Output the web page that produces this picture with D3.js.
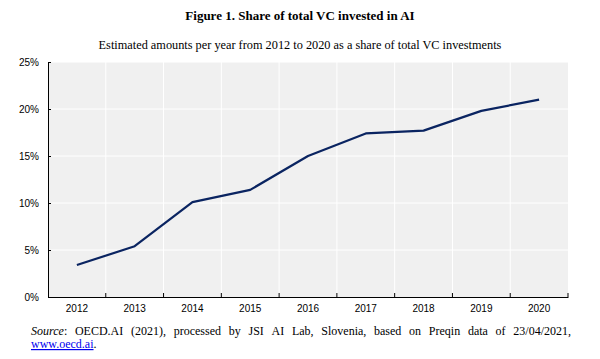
<!DOCTYPE html>
<html><head><meta charset="utf-8">
<script src="https://cdn.jsdelivr.net/npm/d3@7"></script>
<style>body{margin:0;background:#fff}</style>
</head><body>
<svg id="c" width="600" height="359"></svg>
<script>
const years = ["2012","2013","2014","2015","2016","2017","2018","2019","2020"];
const shares = [3.4, 5.4, 10.1, 11.4, 15.0, 17.4, 17.7, 19.8, 21.0];
const yTicks = [0, 5, 10, 15, 20, 25];
const titleText = "Figure 1. Share of total VC invested in AI";
const subtitleText = "Estimated amounts per year from 2012 to 2020 as a share of total VC investments";
const sourceWords = ["OECD.AI","(2021),","processed","by","JSI","AI","Lab,","Slovenia,","based","on","Preqin","data","of","23/04/2021,"];

const svg = d3.select("#c");
const m = {l:48, r:32, t:62, b:62};
const W = 600, H = 359;
const x = d3.scaleBand().domain(years).range([m.l, W - m.r]).padding(0);
const y = d3.scaleLinear().domain([0, 25]).range([H - m.b, m.t]);
const axisFont = "'Liberation Sans Narrow','Arial Narrow','Liberation Sans',Arial,sans-serif";
const serif = "'Liberation Serif','Times New Roman',serif";

svg.append("text").attr("x", 300).attr("y", 20).attr("text-anchor","middle")
  .attr("font-family", serif).attr("font-weight","bold").attr("font-size", 13).text(titleText);
svg.append("text").attr("x", 300).attr("y", 49).attr("text-anchor","middle")
  .attr("font-family", serif).attr("font-size", 12.3).text(subtitleText);

svg.append("rect").attr("x", m.l).attr("y", m.t).attr("width", W - m.r - m.l).attr("height", H - m.b - m.t).attr("fill","#f0f0f0");

// grid
svg.append("g").selectAll("line").data(yTicks.slice(1)).join("line")
  .attr("x1", m.l).attr("x2", W - m.r).attr("y1", d => y(d)).attr("y2", d => y(d))
  .attr("stroke","#fff").attr("stroke-width",1);
svg.append("g").selectAll("line").data(years.slice(1)).join("line")
  .attr("x1", d => x(d)).attr("x2", d => x(d)).attr("y1", m.t).attr("y2", H - m.b)
  .attr("stroke","#fff").attr("stroke-width",1);

// axes
const yAxis = svg.append("g").attr("transform", `translate(${m.l},0)`)
  .call(d3.axisLeft(y).tickValues(yTicks).tickFormat(d => d + "%").tickSize(-3).tickPadding(9));
yAxis.select(".domain").attr("stroke","#000");
yAxis.selectAll("text").attr("font-family", axisFont).attr("font-size", 10).attr("fill","#000");
yAxis.selectAll(".tick line").attr("stroke","#000");

const xAxis = svg.append("g").attr("transform", `translate(0,${H - m.b})`)
  .call(d3.axisBottom(x).tickSize(0).tickPadding(8));
xAxis.select(".domain").attr("stroke","#000");
xAxis.selectAll("text").attr("font-family", axisFont).attr("font-size", 10).attr("fill","#000");
const bounds = years.map(d => x(d)).concat([x(years[years.length-1]) + x.bandwidth()]);
xAxis.append("g").selectAll("line").data(bounds.slice(1)).join("line")
  .attr("x1", d => d).attr("x2", d => d).attr("y1", 0).attr("y2", -4).attr("stroke","#000");

// line
const line = d3.line().x((d,i) => x(years[i]) + x.bandwidth()/2).y(d => y(d));
svg.append("path").datum(shares).attr("d", line).attr("fill","none")
  .attr("stroke","#0a2461").attr("stroke-width",2.2).attr("stroke-linejoin","round");

// source, justified
const sy = 335, sx0 = 31, sx1 = 571;
const measure = svg.append("text").attr("font-family", serif).attr("font-size", 12).attr("visibility","hidden");
const words = [{t:"Source", it:true, suf:":"}].concat(sourceWords.map(w => ({t:w})));
const widths = words.map(w => {
  measure.selectAll("*").remove(); measure.text(null);
  if (w.it) { measure.append("tspan").attr("font-style","italic").text(w.t); measure.append("tspan").text(w.suf); }
  else measure.text(w.t);
  return measure.node().getComputedTextLength();
});
measure.remove();
const total = d3.sum(widths);
const gap = (sx1 - sx0 - total) / (words.length - 1);
let cx = sx0;
words.forEach((w,i) => {
  const t = svg.append("text").attr("x", cx).attr("y", sy).attr("font-family", serif).attr("font-size", 12);
  if (w.it) { t.append("tspan").attr("font-style","italic").text(w.t); t.append("tspan").text(w.suf); }
  else t.text(w.t);
  cx += widths[i] + gap;
});
const l2 = svg.append("text").attr("x", sx0).attr("y", 348).attr("font-family", serif).attr("font-size", 12);
l2.append("tspan").attr("fill","#0000ee").attr("text-decoration","underline").text("www.oecd.ai");
l2.append("tspan").text(".");
</script>
</body></html>
